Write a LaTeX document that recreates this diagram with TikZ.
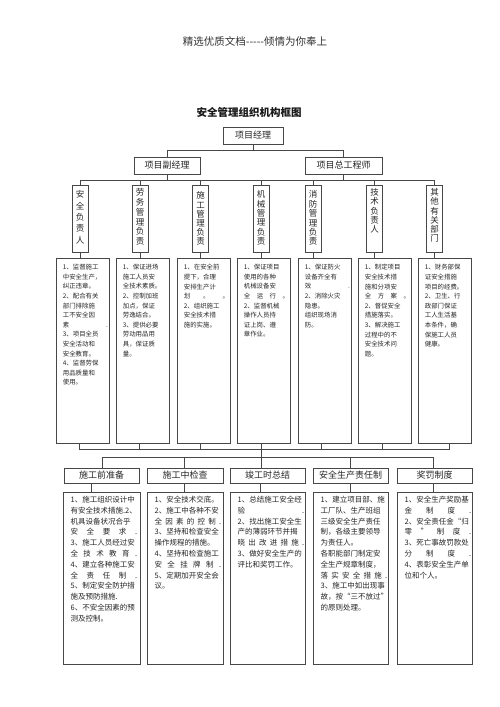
\documentclass[tikz,border=0pt]{standalone}
\usepackage{fontspec}
\setmainfont{Noto Sans CJK SC}
\begin{document}
\begin{tikzpicture}[x=1pt,y=-1pt,
  ln/.style={draw=black!72, line width=0.6pt},
  box/.style={ln, inner sep=0pt, text=black!85},
  hdr/.style={box, minimum height=17pt, font=\fontsize{9}{11}\selectfont},
  col/.style={box, minimum width=16pt, minimum height=67pt},
  ubox/.style={box, minimum width=53pt, minimum height=185pt},
  bhdr/.style={box, minimum height=15pt, font=\fontsize{9}{11}\selectfont},
  bbox/.style={box, minimum height=172pt},
  vt/.style={anchor=north, inner sep=0pt, text width=10pt, align=center, text=black!85},
  ut/.style={anchor=north west, inner sep=0pt, text width=45pt, align=left, font=\fontsize{6.4}{9.6}\selectfont, text=black!85},
  bt/.style={anchor=north west, inner sep=0pt, text width=66.5pt, align=left, font=\fontsize{7.5}{10.8}\selectfont, text=black!85}]
\useasboundingbox (0,0) rectangle (500,707);
\fill[white] (0,0) rectangle (500,707);

% header and title
\node[text=black!80, font=\fontsize{10.5}{12}\selectfont] (top) at (255,41) {精选优质文档-{}-{}-{}-{}-倾情为你奉上};
\node[text=black!90, font=\fontsize{10.5}{12}\selectfont\bfseries] (title) at (249,112) {安全管理组织机构框图};

% top levels
\node[hdr, minimum width=60pt] (pm) at (253,135.5) {项目经理};
\node[hdr, minimum width=66pt] (vpm) at (167,165.5) {项目副经理};
\node[hdr, minimum width=77pt] (cte) at (343.5,165.5) {项目总工程师};

% column boxes
\node[col] (c1) at (80,218.5) {};
\node[col] (c2) at (140,218.5) {};
\node[col] (c3) at (200.5,218.5) {};
\node[col] (c4) at (261,218.5) {};
\node[col] (c5) at (313,218.5) {};
\node[col] (c6) at (374.5,218.5) {};
\node[col] (c7) at (434.5,218.5) {};
\node[vt, font=\fontsize{8.5}{11.3}\selectfont] (v1) at ([yshift=-5.75pt]c1.north) {安\\全\\负\\责\\人};
\node[vt, font=\fontsize{8.5}{9.8}\selectfont] (v2) at ([yshift=-3.75pt]c2.north) {劳\\务\\管\\理\\负\\责};
\node[vt, font=\fontsize{8.5}{9.2}\selectfont] (v3) at ([yshift=-6.75pt]c3.north) {施\\工\\管\\理\\负\\责};
\node[vt, font=\fontsize{8.5}{9.4}\selectfont] (v4) at ([yshift=-5.75pt]c4.north) {机\\械\\管\\理\\负\\责};
\node[vt, font=\fontsize{8.5}{9.4}\selectfont] (v5) at ([yshift=-5.75pt]c5.north) {消\\防\\管\\理\\负\\责};
\node[vt, font=\fontsize{8.5}{9.2}\selectfont] (v6) at ([yshift=-3.75pt]c6.north) {技\\术\\负\\责\\人};
\node[vt, font=\fontsize{8.5}{9.2}\selectfont] (v7) at ([yshift=-3.75pt]c7.north) {其\\他\\有\\关\\部\\门};

% upper detail boxes
\node[ubox] (d1) at (82.5,350.5) {};
\node[ubox] (d2) at (142.5,350.5) {};
\node[ubox] (d3) at (203.5,350.5) {};
\node[ubox] (d4) at (263.5,350.5) {};
\node[ubox] (d5) at (324.5,350.5) {};
\node[ubox] (d6) at (384.5,350.5) {};
\node[ubox] (d7) at (444.5,350.5) {};

\node[ut] (u1) at ([xshift=7pt,yshift=-6.5pt]d1.north west) {1、监督施工\\中安全生产，\\纠正违章。\\2、配合有关\\部门排除施\\工不安全因\\素\hfill .\\3、项目全员\\安全活动和\\安全教育。\\4、监督劳保\\用品质量和\\使用。};
\node[ut] (u2) at ([xshift=7pt,yshift=-6.5pt]d2.north west) {1、保证进场\\施工人员安\\全技术素质。\\2、控制加班\\加点，保证\\劳逸结合。\\3、提供必要\\劳动用品用\\具，保证质\\量。};
\node[ut] (u3) at ([xshift=7pt,yshift=-6.5pt]d3.north west) {1、在安全前\\提下，合理\\安排生产计\\划\hfill 。\hfill 。\\2、组织施工\\安全技术措\\施的实施。};
\node[ut] (u4) at ([xshift=7pt,yshift=-6.5pt]d4.north west) {1、保证项目\\使用的各种\\机械设备安\\全\hfill 运\hfill 行\hfill 。\\2、监督机械\\操作人员持\\证上岗、遵\\章作业。};
\node[ut] (u5) at ([xshift=7pt,yshift=-6.5pt]d5.north west) {1、保证防火\\设备齐全有\\效\hfill .\\2、消除火灾\\隐患。\\组织现场消\\防。};
\node[ut] (u6) at ([xshift=7pt,yshift=-6.5pt]d6.north west) {1、制定项目\\安全技术措\\施和分项安\\全\hfill 方\hfill 案\hfill 。\\2、督促安全\\措施落实。\\3、解决施工\\过程中的不\\安全技术问\\题。};
\node[ut] (u7) at ([xshift=7pt,yshift=-6.5pt]d7.north west) {1、财务部保\\证安全措施\\项目的经费。\\2、卫生、行\\政部门保证\\工人生活基\\本条件，确\\保施工人员\\健康。};

% bottom header boxes
\node[bhdr, minimum width=75pt] (b1) at (101.5,475.5) {施工前准备};
\node[bhdr, minimum width=76pt] (b2) at (185,475.5) {施工中检查};
\node[bhdr, minimum width=75pt] (b3) at (267.5,475.5) {竣工时总结};
\node[bhdr, minimum width=75pt] (b4) at (350.5,475.5) {安全生产责任制};
\node[bhdr, minimum width=75pt] (b5) at (434.5,475.5) {奖罚制度};

% bottom detail boxes
\node[bbox, minimum width=77pt] (e1) at (101.5,578) {};
\node[bbox, minimum width=76pt] (e2) at (185,578) {};
\node[bbox, minimum width=75pt] (e3) at (267.5,578) {};
\node[bbox, minimum width=75pt] (e4) at (350.5,578) {};
\node[bbox, minimum width=75pt] (e5) at (434.5,578) {};

\node[bt] (w1) at ([xshift=7.7pt,yshift=-4.25pt]e1.north west) {1、施工组织设计中\\有安全技术措施.2、\\机具设备状况合乎\\安\hfill 全\hfill 要\hfill 求\hfill .\\3、施工人员经过安\\全\hfill 技\hfill 术\hfill 教\hfill 育\hfill .\\4、建立各种施工安\\全\hfill 责\hfill 任\hfill 制\hfill .\\5、制定安全防护措\\施及预防措施.\\6、不安全因素的预\\测及控制。};
\node[bt] (w2) at ([xshift=7.7pt,yshift=-4.25pt]e2.north west) {1、安全技术交底。\\2、施工中各种不安\\全\hfill 因\hfill 素\hfill 的\hfill 控\hfill 制\hfill .\\3、坚持和检查安全\\操作规程的措施。\\4、坚持和检查施工\\安\hfill 全\hfill 挂\hfill 牌\hfill 制\hfill .\\5、定期加开安全会\\议。};
\node[bt] (w3) at ([xshift=7.7pt,yshift=-4.25pt]e3.north west) {1、总结施工安全经\\验\hfill .\\2、找出施工安全生\\产的薄弱环节并揭\\晓\hfill 出\hfill 改\hfill 进\hfill 措\hfill 施\hfill .\\3、做好安全生产的\\评比和奖罚工作。};
\node[bt] (w4) at ([xshift=7.7pt,yshift=-4.25pt]e4.north west) {1、建立项目部、施\\工厂队、生产班组\\三级安全生产责任\\制，各级主要领导\\为责任人。\\各职能部门制定安\\全生产规章制度，\\落\hfill 实\hfill 安\hfill 全\hfill 措\hfill 施\hfill .\\3、施工中如出现事\\故，按“三不放过”\\的原则处理。};
\node[bt] (w5) at ([xshift=7.7pt,yshift=-4.25pt]e5.north west) {1、安全生产奖励基\\金\hfill 制\hfill 度\hfill .\\2、安全责任金“归\\零\hfill ”\hfill 制\hfill 度\hfill .\\3、死亡事故罚款处\\分\hfill 制\hfill 度\hfill .\\4、表彰安全生产单\\位和个人。};

% connectors
\coordinate (busA) at (0,150);
\coordinate (busB) at (0,180);
\coordinate (busC) at (0,449);
\coordinate (busD) at (0,457);
\draw[ln] (pm.south) -- (pm.south |- busA);
\draw[ln] (vpm.north) -- (vpm.north |- busA) -- (cte.north |- busA) -- (cte.north);
\draw[ln] (vpm.south) -- (vpm.south |- busB);
\draw[ln] (cte.south) -- (cte.south |- busB);
\draw[ln] (c1.north) -- (c1.north |- busB) -- (c7.north |- busB) -- (c7.north);
\foreach \i in {2,...,6} { \draw[ln] (c\i.north) -- (c\i.north |- busB); }
\foreach \i in {1,...,7} { \draw[ln] (c\i.south) -- (c\i.south |- d\i.north); }

\draw[ln] ([xshift=-3.5pt]d1.south) -- ([xshift=-3.5pt]d1.south |- busC) -- ([xshift=4.5pt]d7.south |- busC) -- ([xshift=4.5pt]d7.south);
\draw[ln] ([xshift=-3.5pt]d2.south) -- ([xshift=-3.5pt]d2.south |- busC);
\draw[ln] ([xshift=-3.5pt]d3.south) -- ([xshift=-3.5pt]d3.south |- busC);
\draw[ln] ([xshift=-2.5pt]d4.south) -- ([xshift=-2.5pt]d4.south |- busD);
\draw[ln] ([xshift=-3.5pt]d5.south) -- ([xshift=-3.5pt]d5.south |- busC);
\draw[ln] ([xshift=-2.5pt]d6.south) -- ([xshift=-2.5pt]d6.south |- busC);

\draw[ln] ([xshift=0.5pt]b1.north) -- ([xshift=0.5pt]b1.north |- busD) -- ([xshift=-1.5pt]b5.north |- busD) -- ([xshift=-1.5pt]b5.north);
\draw[ln] ([xshift=-1pt]b2.north) -- ([xshift=-1pt]b2.north |- busD);
\draw[ln] ([xshift=-6.5pt]b3.north) -- ([xshift=-6.5pt]b3.north |- busD);
\draw[ln] (b4.north) -- (b4.north |- busD);

\draw[ln] ([xshift=-10.5pt]b1.south) -- ([xshift=-10.5pt]b1.south |- e1.north);
\draw[ln] ([xshift=-1pt]b2.south) -- ([xshift=-1pt]b2.south |- e2.north);
\draw[ln] ([xshift=-7.5pt]b3.south) -- ([xshift=-7.5pt]b3.south |- e3.north);
\draw[ln] (b4.south) -- (b4.south |- e4.north);
\draw[ln] ([xshift=-1.5pt]b5.south) -- ([xshift=-1.5pt]b5.south |- e5.north);
\end{tikzpicture}
\end{document}
